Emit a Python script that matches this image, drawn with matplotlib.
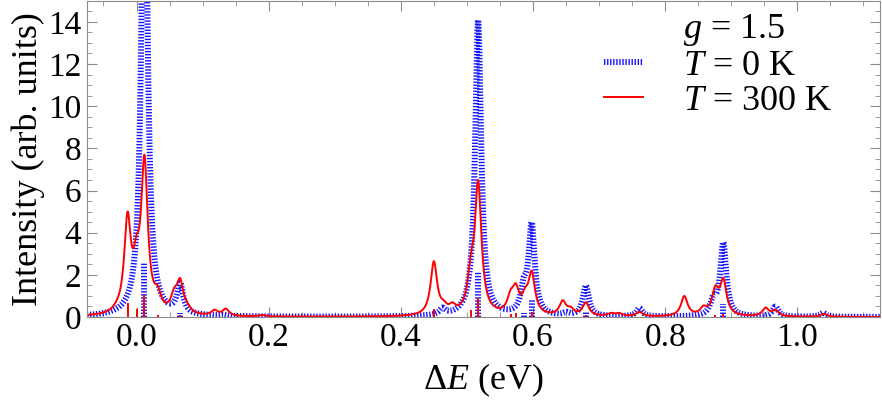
import numpy as np
import matplotlib
matplotlib.use('Agg')
import matplotlib.pyplot as plt
import matplotlib.ticker as mticker
from matplotlib.lines import Line2D

BLUE = '#1414ff'; RED = '#ff0000'; AXC = '#8c8c8c'

plt.rcParams.update({'font.family': 'serif',
    'font.serif': ['Liberation Serif', 'Times New Roman', 'DejaVu Serif'],
    'mathtext.fontset': 'custom',
    'mathtext.rm': 'Liberation Serif', 'mathtext.it': 'Liberation Serif:italic',
    'lines.scale_dashes': False})

# ── peaks (position in eV, peak height) ─────────────────────────────────────
t0_pos    = [0.012, 0.066, 0.130, 0.463, 0.517, 0.586, 0.598, 0.650, 0.680, 0.761,
             0.873, 0.888, 0.967, 1.039]
t0_height = [24.0, 1.65, 0.12, 0.45, 14.1, 1.9, 4.5, 0.25, 1.5, 0.42,
             1.05, 3.55, 0.5, 0.2]

t300_pos    = [-0.030, -0.0136, 0.000, 0.012, 0.032, 0.057, 0.066, 0.077, 0.118, 0.135,
               0.190, 0.450, 0.465, 0.478, 0.506, 0.517, 0.566, 0.574, 0.588, 0.598,
               0.645, 0.657, 0.680, 0.718, 0.730, 0.761, 0.829, 0.858, 0.876, 0.888,
               0.952, 0.967, 1.040]
t300_height = [0.8, 5.0, 3.9, 7.7, 1.5, 1.4, 1.85, 0.7, 0.35, 0.4,
               0.1, 2.65, 0.8, 0.7, 3.0, 6.5, 1.3, 1.6, 1.4, 2.2,
               0.8, 0.5, 0.7, 0.2, 0.2, 0.25, 1.0, 0.55, 1.5, 1.85,
               0.45, 0.35, 0.15]

# stick spectra
t0_stick_pos    = [0.012, 0.066, 0.517, 0.586, 0.598, 0.680, 0.888]
t0_stick_height = [2.55, 0.2, 2.15, 0.2, 0.8, 0.25, 0.6]
t300_stick_pos    = [-0.0136, 0.000, 0.012, 0.032, 0.066, 0.450, 0.506, 0.517, 0.566,
                     0.574, 0.598, 0.680, 0.876, 0.888]
t300_stick_height = [0.65, 0.4, 1.05, 0.1, 0.1, 0.4, 0.35, 0.9, 0.15,
                     0.2, 0.25, 0.1, 0.1, 0.15]

GAMMA_T0 = 0.0055; GAMMA_T300 = 0.006
X_LIM = (-0.075, 1.125)

def lorentz_sum(pos, height, gamma, x):
    pos = np.asarray(pos); height = np.asarray(height)
    # amplitudes so that the summed curve hits the read heights at each peak
    M = gamma**2 / ((pos[:, None] - pos[None, :])**2 + gamma**2)
    amp = np.clip(np.linalg.solve(M, height), 0, None)
    return (amp[None, :] * gamma**2 / ((x[:, None] - pos[None, :])**2 + gamma**2)).sum(axis=1)

x = np.linspace(X_LIM[0], X_LIM[1], 3000)
y0   = lorentz_sum(t0_pos, t0_height, GAMMA_T0, x)
y300 = lorentz_sum(t300_pos, t300_height, GAMMA_T300, x)

fig = plt.figure(figsize=(8.82, 4.15), dpi=100)
ax = fig.add_axes([0.0986, 0.2361, 0.899, 0.762])

dots = (0, (1.0, 1.2))
ax.plot(x, y0, color=BLUE, lw=4.3, ls=dots)
ax.vlines(t0_stick_pos, 0, t0_stick_height, color=BLUE, lw=4.3, ls=dots)
ax.plot(x, y300, color=RED, lw=1.4)
ax.vlines(t300_stick_pos, 0, t300_stick_height, color=RED, lw=1.4)

ax.set_xlim(*X_LIM)
ax.set_ylim(0, 15)
ax.xaxis.set_major_locator(mticker.MultipleLocator(0.2))
ax.xaxis.set_minor_locator(mticker.MultipleLocator(0.05))
ax.yaxis.set_major_locator(mticker.MultipleLocator(2))
ax.yaxis.set_minor_locator(mticker.MultipleLocator(0.5))
ax.xaxis.set_major_formatter(mticker.FuncFormatter(lambda v, _: f'{v:.1f}'))
ax.yaxis.set_major_formatter(mticker.FuncFormatter(lambda v, _: f'{v:.0f}'))
ax.tick_params(which='both', direction='in', top=True, right=True, color=AXC, labelsize=24)
ax.tick_params(which='major', length=7, pad=4)
ax.tick_params(which='minor', length=3.5)
for s in ax.spines.values():
    s.set_color(AXC)

ax.set_xlabel(r'$\Delta E$ (eV)', fontsize=26, labelpad=6)
ax.set_ylabel('Intensity (arb. units)', fontsize=26, labelpad=2)

# legend: first row is just the coupling label, no line
handles = [Line2D([], [], ls='none'),
           Line2D([], [], color=BLUE, lw=4.3, ls=dots),
           Line2D([], [], color=RED, lw=1.4)]
labels = [r'$g$ = 1.5', r'$T$ = 0 K', r'$T$ = 300 K']
ax.legend(handles, labels, loc='upper right', bbox_to_anchor=(0.94, 0.965), frameon=False,
          fontsize=26, handlelength=1.1, handletextpad=1.1, labelspacing=0.05, borderaxespad=0,
          borderpad=0)

fig.savefig('out.png', dpi=100)
